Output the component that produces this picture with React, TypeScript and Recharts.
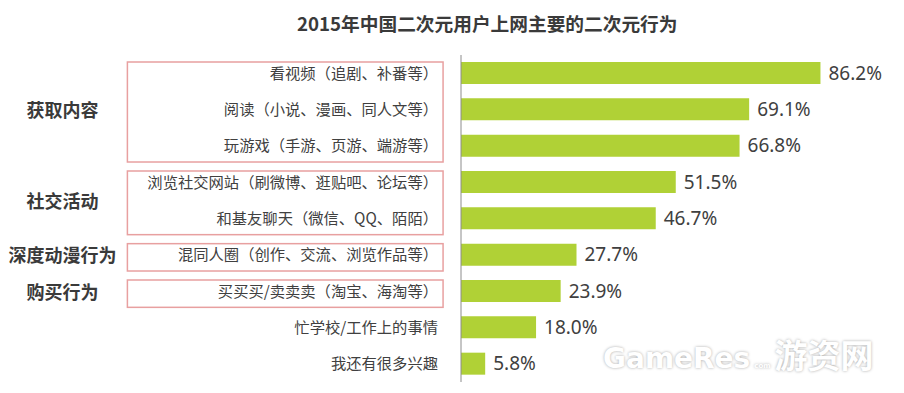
import React from 'react';
import { BarChart, Bar, XAxis, YAxis, LabelList, ReferenceArea } from 'recharts';

const title = '2015年中国二次元用户上网主要的二次元行为';

const categories = [
  '看视频（追剧、补番等）',
  '阅读（小说、漫画、同人文等）',
  '玩游戏（手游、页游、端游等）',
  '浏览社交网站（刷微博、逛贴吧、论坛等）',
  '和基友聊天（微信、QQ、陌陌）',
  '混同人圈（创作、交流、浏览作品等）',
  '买买买/卖卖卖（淘宝、海淘等）',
  '忙学校/工作上的事情',
  '我还有很多兴趣',
];

const values = [86.2, 69.1, 66.8, 51.5, 46.7, 27.7, 23.9, 18.0, 5.8];

const groupLabels = ['获取内容', '社交活动', '深度动漫行为', '购买行为'];
const groupFrom = [0, 3, 5, 6];
const groupTo = [2, 4, 5, 6];

const data = categories.map((name, i) => ({ name, value: values[i] }));

const CJK = "'Noto Sans CJK SC', 'Noto Sans', sans-serif";

const CatTick = (props: any) => {
  const { x, y, payload } = props;
  return (
    <text x={x} y={y} dy="0.36em" textAnchor="end" fontSize={15.3} fill="#404040" fontFamily={CJK}>
      {payload.value}
    </text>
  );
};

const makeBox = (label: string) => (props: any) => {
  const { x, y, width, height } = props;
  const top = y + 7;
  const h = height - 9;
  return (
    <g>
      <rect x={x} y={top} width={width} height={h} fill="none" stroke="#e8a0a0" strokeWidth={1.5} />
      <text
        x={x - 65}
        y={y + height / 2 + 1}
        dy="0.36em"
        textAnchor="middle"
        fontSize={18}
        fontWeight="bold"
        fill="#3a3a3a"
        fontFamily={CJK}
      >
        {label}
      </text>
    </g>
  );
};

export default function App() {
  return (
    <div style={{ position: 'relative', width: 904, height: 393, background: '#fff' }}>
      <style>{'body{margin:0;}'}</style>
      <div
        style={{
          position: 'absolute',
          left: 297,
          top: 11,
          fontSize: 18.7,
          fontWeight: 'bold',
          color: '#3a3a3a',
          fontFamily: CJK,
          lineHeight: '24px',
          whiteSpace: 'nowrap',
        }}
      >
        {title}
      </div>
      <BarChart
        width={904}
        height={393}
        data={data}
        layout="vertical"
        margin={{ top: 55, right: 26, bottom: 11, left: 0 }}
      >
        <XAxis type="number" domain={[0, 100]} hide />
        <YAxis
          type="category"
          dataKey="name"
          width={461}
          interval={0}
          axisLine={{ stroke: '#8c8c8c' }}
          tickLine={false}
          tickSize={0}
          tickMargin={23}
          tick={CatTick}
        />
        {groupLabels.map((g, i) => (
          <ReferenceArea
            key={g}
            y1={categories[groupFrom[i]]}
            y2={categories[groupTo[i]]}
            x1={-80}
            x2={-4.3}
            ifOverflow="visible"
            shape={makeBox(g)}
          />
        ))}
        <Bar dataKey="value" fill="#b0d136" barSize={22} isAnimationActive={false}>
          <LabelList
            dataKey="value"
            position="right"
            offset={8}
            fill="#404040"
            fontSize={19}
            fontFamily="'Noto Sans', sans-serif"
            formatter={(v: any) => `${Number(v).toFixed(1)}%`}
          />
        </Bar>
      </BarChart>
      <div
        style={{
          position: 'absolute',
          left: 603,
          top: 334,
          color: '#ffffff',
          textShadow: '0 0 3px rgba(0,0,0,0.35)',
          fontWeight: 'bold',
          whiteSpace: 'nowrap',
          lineHeight: '40px',
        }}
      >
        <span style={{ fontFamily: "'DejaVu Sans', sans-serif", fontSize: 28 }}>GameRes</span>
        <span style={{ fontFamily: "'DejaVu Sans', sans-serif", fontSize: 7, margin: '0 4px' }}>com</span>
        <span style={{ fontFamily: CJK, fontSize: 33 }}>游资网</span>
      </div>
    </div>
  );
}
